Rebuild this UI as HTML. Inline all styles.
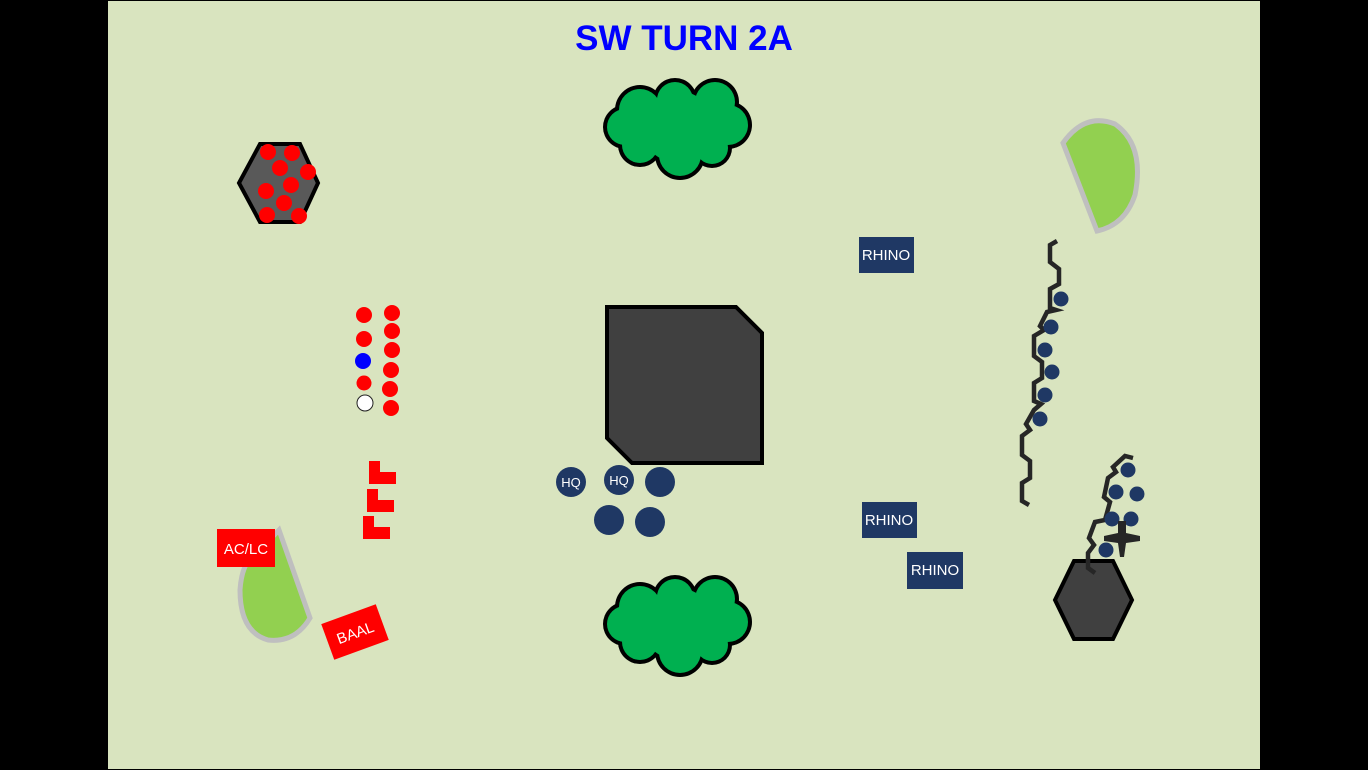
<!DOCTYPE html>
<html><head><meta charset="utf-8"><style>
html,body{margin:0;padding:0;background:#000;}
svg{display:block;}
</style></head><body>
<svg width="1368" height="770" viewBox="0 0 1368 770" xmlns="http://www.w3.org/2000/svg">
<rect x="0" y="0" width="1368" height="770" fill="#000"/>
<rect x="108" y="1" width="1152" height="768" fill="#d9e4bf"/>
<text x="684" y="50" text-anchor="middle" font-family="Liberation Sans, sans-serif" font-weight="bold" font-size="35" fill="#0000ff">SW TURN 2A</text>

<!-- clouds -->
<g id="c1">
<g fill="#000">
<circle cx="640" cy="110" r="25"/><circle cx="675" cy="100" r="22"/><circle cx="715" cy="102" r="24"/><circle cx="728" cy="125" r="24"/><circle cx="712" cy="148" r="20"/><circle cx="680" cy="155" r="25"/><circle cx="640" cy="145" r="22"/><circle cx="625" cy="127" r="22"/>
</g>
<g fill="#00b050">
<circle cx="640" cy="110" r="21"/><circle cx="675" cy="100" r="18"/><circle cx="715" cy="102" r="20"/><circle cx="728" cy="125" r="20"/><circle cx="712" cy="148" r="16"/><circle cx="680" cy="155" r="21"/><circle cx="640" cy="145" r="18"/><circle cx="625" cy="127" r="18"/><circle cx="678" cy="127" r="36"/>
</g>
</g>
<use href="#c1" transform="translate(0,497)"/>

<!-- leaves -->
<path d="M1063,143 Q1085,112 1115,124 Q1145,145 1135,195 Q1125,225 1097,231 Z" fill="#92d050" stroke="#bfbfbf" stroke-width="5"/>
<path d="M279,530 L310,618 Q295,643 268,640 Q240,632 240,590 Q242,560 258,552 Z" fill="#92d050" stroke="#bfbfbf" stroke-width="5"/>

<!-- central building -->
<polygon points="607,307 736,307 762,333 762,463 632,463 607,438" fill="#404040" stroke="#000" stroke-width="4"/>

<!-- top-left hexagon -->
<polygon points="239,183 260,144 300,144 318,183 300,222 260,222" fill="#595959" stroke="#000" stroke-width="4"/>
<g fill="#ff0000">
<circle cx="268" cy="152" r="8"/><circle cx="292" cy="153" r="8"/><circle cx="280" cy="168" r="8"/><circle cx="308" cy="172" r="8"/><circle cx="291" cy="185" r="8"/><circle cx="266" cy="191" r="8"/><circle cx="284" cy="203" r="8"/><circle cx="267" cy="215" r="8"/><circle cx="299" cy="216" r="8"/>
</g>
<!-- red column dots -->
<g fill="#ff0000">
<circle cx="364" cy="315" r="8"/><circle cx="364" cy="339" r="8"/><circle cx="364" cy="383" r="7.5"/>
<circle cx="392" cy="313" r="8"/><circle cx="392" cy="331" r="8"/><circle cx="392" cy="350" r="8"/><circle cx="391" cy="370" r="8"/><circle cx="390" cy="389" r="8"/><circle cx="391" cy="408" r="8"/>
</g>
<circle cx="363" cy="361" r="8" fill="#0000ff"/>
<circle cx="365" cy="403" r="8" fill="#fff" stroke="#222" stroke-width="1"/>
<!-- L shapes -->
<g fill="#ff0000">
<path d="M369,461 H380 V472 H396 V484 H369 Z"/>
<path d="M367,489 H378 V500 H394 V512 H367 Z"/>
<path d="M363,516 H374 V527 H390 V539 H363 Z"/>
</g>
<rect x="217" y="529" width="58" height="38" fill="#ff0000"/>
<text x="246" y="554" text-anchor="middle" font-family="Liberation Sans, sans-serif" font-size="15" fill="#fff">AC/LC</text>
<g transform="translate(355,632) rotate(-20)">
<rect x="-29" y="-19" width="58" height="38" fill="#ff0000"/>
<text x="0" y="6" text-anchor="middle" font-family="Liberation Sans, sans-serif" font-size="15" fill="#fff">BAAL</text>
</g>

<!-- HQ -->
<g fill="#1f3864">
<circle cx="571" cy="482" r="15"/><circle cx="619" cy="480" r="15"/><circle cx="660" cy="482" r="15"/><circle cx="609" cy="520" r="15"/><circle cx="650" cy="522" r="15"/>
</g>
<text x="571" y="487" text-anchor="middle" font-family="Liberation Sans, sans-serif" font-size="13" fill="#fff">HQ</text>
<text x="619" y="485" text-anchor="middle" font-family="Liberation Sans, sans-serif" font-size="13" fill="#fff">HQ</text>

<!-- rhinos -->
<g font-family="Liberation Sans, sans-serif" font-size="15" fill="#fff" text-anchor="middle">
<rect x="859" y="237" width="55" height="36" fill="#1f3864"/><text x="886" y="260">RHINO</text>
<rect x="862" y="502" width="55" height="36" fill="#1f3864"/><text x="889" y="525">RHINO</text>
<rect x="907" y="552" width="56" height="37" fill="#1f3864"/><text x="935" y="575">RHINO</text>
</g>

<!-- bottom-right hexagon -->
<polygon points="1055,600 1074,561 1113,561 1132,600 1113,639 1074,639" fill="#404040" stroke="#000" stroke-width="4"/>

<!-- jagged lines -->
<g fill="none" stroke="#262626" stroke-width="4.5" stroke-linejoin="miter">
<polyline points="1057,241 1050,245 1050,262 1059,269 1059,284 1050,289 1050,308 1056,310 1047,312 1040,326 1044,330 1034,336 1034,356 1042,362 1042,378 1034,383 1034,401 1041,404 1034,410 1026,424 1030,430 1022,436 1022,455 1030,461 1030,478 1022,483 1022,501 1029,505"/>
<polyline points="1133,458 1125,456 1113,467 1116,472 1108,478 1104,497 1110,502 1105,520 1095,522 1089,538 1094,545 1088,553 1088,568 1095,573"/>
</g>
<g fill="#1f3864">
<circle cx="1061" cy="299" r="7.5"/><circle cx="1051" cy="327" r="7.5"/><circle cx="1045" cy="350" r="7.5"/><circle cx="1052" cy="372" r="7.5"/><circle cx="1045" cy="395" r="7.5"/><circle cx="1040" cy="419" r="7.5"/>
<circle cx="1128" cy="470" r="7.5"/><circle cx="1116" cy="492" r="7.5"/><circle cx="1137" cy="494" r="7.5"/><circle cx="1112" cy="519" r="7.5"/><circle cx="1131" cy="519" r="7.5"/><circle cx="1106" cy="550" r="7.5"/>
</g>
<path d="M1118,521 L1126,521 L1126,533 L1140,536 L1140,541 L1126,543 L1124,557 L1120,557 L1118,543 L1104,541 L1104,536 L1118,533 Z" fill="#262626"/>
</svg>
</body></html>
